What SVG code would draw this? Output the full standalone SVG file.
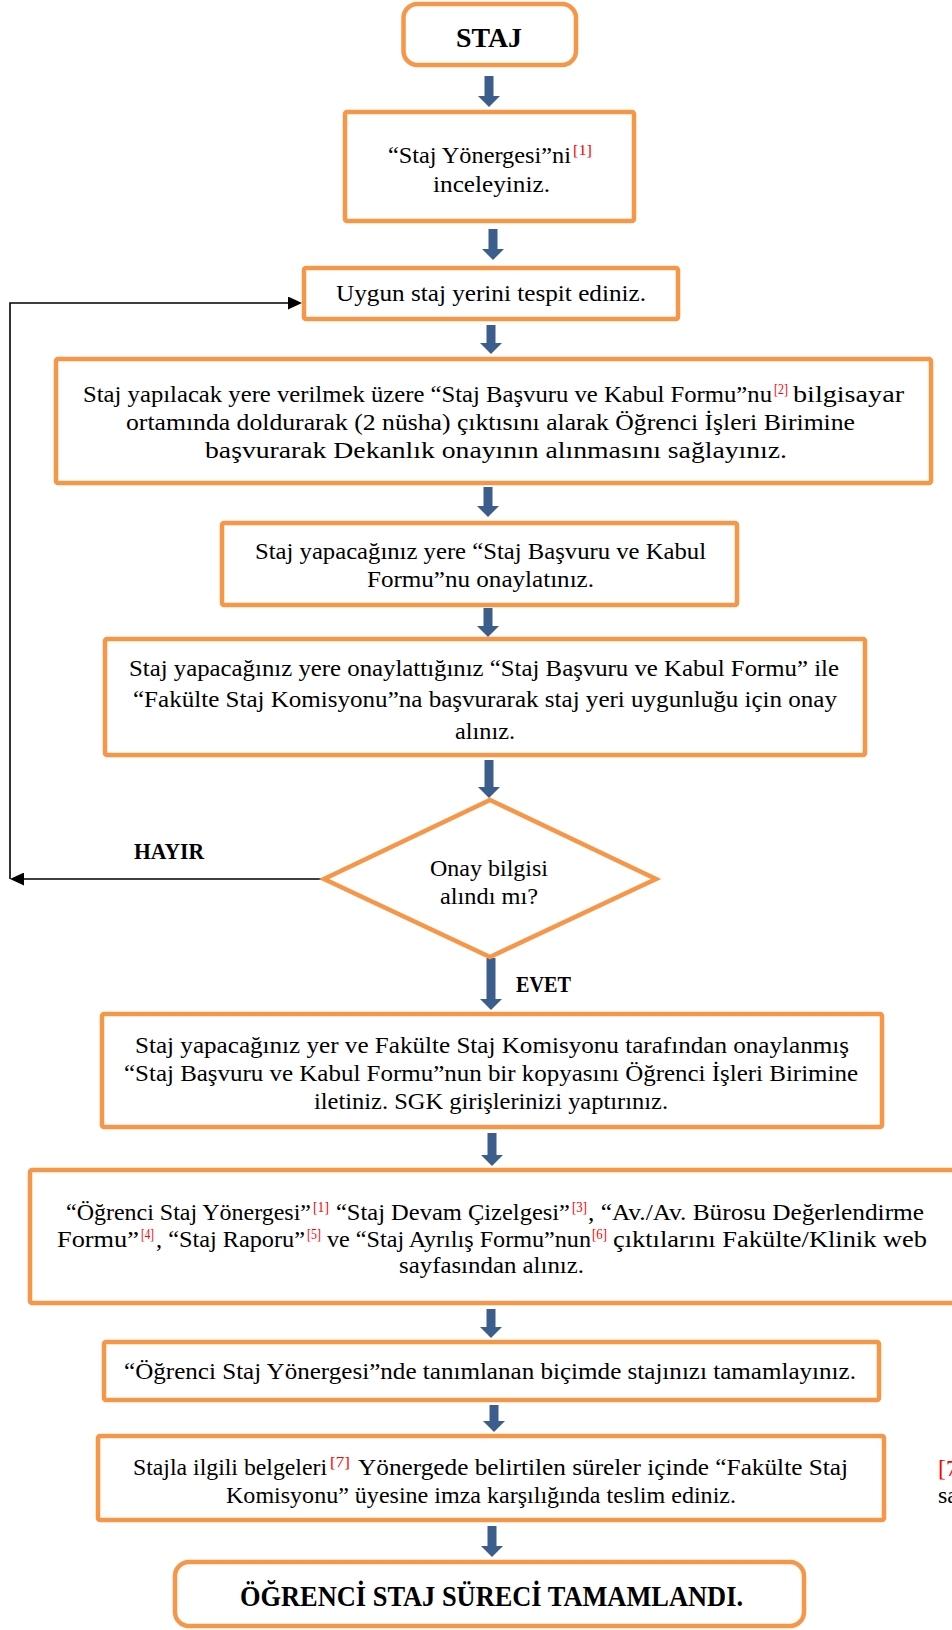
<svg xmlns="http://www.w3.org/2000/svg" width="952" height="1630" viewBox="0 0 952 1630">
<style>
.box{fill:#fff;stroke:#F79646;stroke-width:4.5}
.t{font-family:"Liberation Serif","Times New Roman",serif;font-size:24px;fill:#000}
.b{font-weight:bold}
.sup{font-family:"Liberation Serif","Times New Roman",serif;font-size:15px;fill:#FF0000}
.arr{stroke:#3B5E8C;stroke-width:9;fill:none}
.blk{stroke:#000;stroke-width:1.6;fill:none}
</style>
<defs>
<marker id="ah" viewBox="0 0 11 22" refX="0" refY="11" markerWidth="11" markerHeight="22" markerUnits="userSpaceOnUse" orient="auto"><path d="M0,0 L11,11 L0,22 z" fill="#3B5E8C"/></marker>
<marker id="bh" viewBox="0 0 14 13" refX="0" refY="6.5" markerWidth="14" markerHeight="13" markerUnits="userSpaceOnUse" orient="auto"><path d="M0,0 L14,6.5 L0,13 z" fill="#000"/></marker>
</defs>
<rect width="952" height="1630" fill="#fff"/>
<g id="connectors">
<line class="arr" x1="489" y1="76" x2="489" y2="96" marker-end="url(#ah)"/>
<line class="arr" x1="493" y1="229" x2="493" y2="249" marker-end="url(#ah)"/>
<line class="arr" x1="491" y1="325" x2="491" y2="343" marker-end="url(#ah)"/>
<line class="arr" x1="488" y1="487" x2="488" y2="506" marker-end="url(#ah)"/>
<line class="arr" x1="488" y1="608" x2="488" y2="626" marker-end="url(#ah)"/>
<line class="arr" x1="489" y1="760" x2="489" y2="787" marker-end="url(#ah)"/>
<line class="arr" x1="491" y1="958" x2="491" y2="999" marker-end="url(#ah)"/>
<line class="arr" x1="492" y1="1133" x2="492" y2="1155" marker-end="url(#ah)"/>
<line class="arr" x1="491" y1="1309" x2="491" y2="1327" marker-end="url(#ah)"/>
<line class="arr" x1="494" y1="1405" x2="494" y2="1421" marker-end="url(#ah)"/>
<line class="arr" x1="492" y1="1526" x2="492" y2="1546" marker-end="url(#ah)"/>
<path class="blk" d="M324,879 L24,879" marker-end="url(#bh)"/>
<path class="blk" d="M10,879 L10,303 L288,303" marker-end="url(#bh)"/>
<text class="t b" x="134" y="859" textLength="70" lengthAdjust="spacingAndGlyphs">HAYIR</text>
<text class="t b" x="516" y="992" textLength="55" lengthAdjust="spacingAndGlyphs">EVET</text>
</g>
<g id="n-staj">
<rect class="box" x="403.5" y="4" width="172.5" height="61" rx="14"/>
<text class="t b" style="font-size:27px" x="456" y="47" textLength="66" lengthAdjust="spacingAndGlyphs">STAJ</text>
</g>
<g id="n-yonerge">
<rect class="box" x="345" y="112" width="289" height="109" rx="2"/>
<text class="t" x="388" y="163" textLength="183" lengthAdjust="spacingAndGlyphs">“Staj Yönergesi”ni</text>
<text class="sup" x="573" y="155" textLength="19" lengthAdjust="spacingAndGlyphs">[1]</text>
<text class="t" x="433" y="192" textLength="117" lengthAdjust="spacingAndGlyphs">inceleyiniz.</text>
</g>
<g id="n-uygun">
<rect class="box" x="304" y="268" width="374" height="51" rx="2"/>
<text class="t" x="336" y="301" textLength="310" lengthAdjust="spacingAndGlyphs">Uygun staj yerini tespit ediniz.</text>
</g>
<g id="n-basvuru">
<rect class="box" x="56" y="359" width="875" height="124" rx="2"/>
<text class="t" x="83" y="402" textLength="689" lengthAdjust="spacingAndGlyphs">Staj yapılacak yere verilmek üzere “Staj Başvuru ve Kabul Formu”nu</text>
<text class="sup" x="774" y="394" textLength="14" lengthAdjust="spacingAndGlyphs">[2]</text>
<text class="t" x="793" y="402" textLength="111" lengthAdjust="spacingAndGlyphs">bilgisayar</text>
<text class="t" x="126" y="430" textLength="729" lengthAdjust="spacingAndGlyphs">ortamında doldurarak (2 nüsha) çıktısını alarak Öğrenci İşleri Birimine</text>
<text class="t" x="205" y="458" textLength="582" lengthAdjust="spacingAndGlyphs">başvurarak Dekanlık onayının alınmasını sağlayınız.</text>
</g>
<g id="n-onaylat">
<rect class="box" x="222" y="523" width="515" height="82" rx="2"/>
<text class="t" x="255" y="559" textLength="451" lengthAdjust="spacingAndGlyphs">Staj yapacağınız yere “Staj Başvuru ve Kabul</text>
<text class="t" x="367" y="587" textLength="227" lengthAdjust="spacingAndGlyphs">Formu”nu onaylatınız.</text>
</g>
<g id="n-komisyon">
<rect class="box" x="105" y="639" width="760" height="116" rx="2"/>
<text class="t" x="129" y="676" textLength="710" lengthAdjust="spacingAndGlyphs">Staj yapacağınız yere onaylattığınız “Staj Başvuru ve Kabul Formu” ile</text>
<text class="t" x="133" y="707" textLength="704" lengthAdjust="spacingAndGlyphs">“Fakülte Staj Komisyonu”na başvurarak staj yeri uygunluğu için onay</text>
<text class="t" x="455" y="739" textLength="60" lengthAdjust="spacingAndGlyphs">alınız.</text>
</g>
<g id="n-karar">
<polygon class="box" points="490,800 656,879 490,957 324,879"/>
<text class="t" x="430" y="876" textLength="118" lengthAdjust="spacingAndGlyphs">Onay bilgisi</text>
<text class="t" x="440" y="904" textLength="98" lengthAdjust="spacingAndGlyphs">alındı mı?</text>
</g>
<g id="n-kopya">
<rect class="box" x="102" y="1014" width="780" height="113" rx="2"/>
<text class="t" x="135" y="1053" textLength="714" lengthAdjust="spacingAndGlyphs">Staj yapacağınız yer ve Fakülte Staj Komisyonu tarafından onaylanmış</text>
<text class="t" x="124" y="1081" textLength="734" lengthAdjust="spacingAndGlyphs">“Staj Başvuru ve Kabul Formu”nun bir kopyasını Öğrenci İşleri Birimine</text>
<text class="t" x="314" y="1109" textLength="354" lengthAdjust="spacingAndGlyphs">iletiniz. SGK girişlerinizi yaptırınız.</text>
</g>
<g id="n-belgeler">
<rect class="box" x="30" y="1170" width="940" height="133" rx="2"/>
<text class="t" x="66" y="1220" textLength="245" lengthAdjust="spacingAndGlyphs">“Öğrenci Staj Yönergesi”</text>
<text class="sup" x="313" y="1212" textLength="16" lengthAdjust="spacingAndGlyphs">[1]</text>
<text class="t" x="336" y="1220" textLength="234" lengthAdjust="spacingAndGlyphs">“Staj Devam Çizelgesi”</text>
<text class="sup" x="572" y="1212" textLength="15" lengthAdjust="spacingAndGlyphs">[3]</text>
<text class="t" x="588" y="1220" textLength="336" lengthAdjust="spacingAndGlyphs">, “Av./Av. Bürosu Değerlendirme</text>
<text class="t" x="57" y="1247" textLength="82" lengthAdjust="spacingAndGlyphs">Formu”</text>
<text class="sup" x="141" y="1239" textLength="13" lengthAdjust="spacingAndGlyphs">[4]</text>
<text class="t" x="156" y="1247" textLength="149" lengthAdjust="spacingAndGlyphs">, “Staj Raporu”</text>
<text class="sup" x="307" y="1239" textLength="14" lengthAdjust="spacingAndGlyphs">[5]</text>
<text class="t" x="327" y="1247" textLength="264" lengthAdjust="spacingAndGlyphs">ve “Staj Ayrılış Formu”nun</text>
<text class="sup" x="592" y="1239" textLength="15" lengthAdjust="spacingAndGlyphs">[6]</text>
<text class="t" x="613" y="1247" textLength="314" lengthAdjust="spacingAndGlyphs">çıktılarını Fakülte/Klinik web</text>
<text class="t" x="399" y="1273" textLength="185" lengthAdjust="spacingAndGlyphs">sayfasından alınız.</text>
</g>
<g id="n-tamamla">
<rect class="box" x="104" y="1342" width="775" height="58" rx="2"/>
<text class="t" x="124" y="1379" textLength="732" lengthAdjust="spacingAndGlyphs">“Öğrenci Staj Yönergesi”nde tanımlanan biçimde stajınızı tamamlayınız.</text>
</g>
<g id="n-teslim">
<rect class="box" x="98" y="1436" width="786" height="84" rx="2"/>
<text class="t" x="133" y="1475" textLength="194" lengthAdjust="spacingAndGlyphs">Stajla ilgili belgeleri</text>
<text class="sup" x="330" y="1467" textLength="20" lengthAdjust="spacingAndGlyphs">[7]</text>
<text class="t" x="358" y="1475" textLength="490" lengthAdjust="spacingAndGlyphs">Yönergede belirtilen süreler içinde “Fakülte Staj</text>
<text class="t" x="226" y="1503" textLength="510" lengthAdjust="spacingAndGlyphs">Komisyonu” üyesine imza karşılığında teslim ediniz.</text>
</g>
<g id="footnote">
<text class="t" style="fill:#FF0000" x="938" y="1476">[7]</text>
<text class="t" x="938" y="1503">sa</text>
</g>
<g id="n-son">
<rect class="box" x="175" y="1562" width="629" height="64" rx="14"/>
<text class="t b" style="font-size:30px" x="240" y="1606" textLength="503" lengthAdjust="spacingAndGlyphs">ÖĞRENCİ STAJ SÜRECİ TAMAMLANDI.</text>
</g>
</svg>
